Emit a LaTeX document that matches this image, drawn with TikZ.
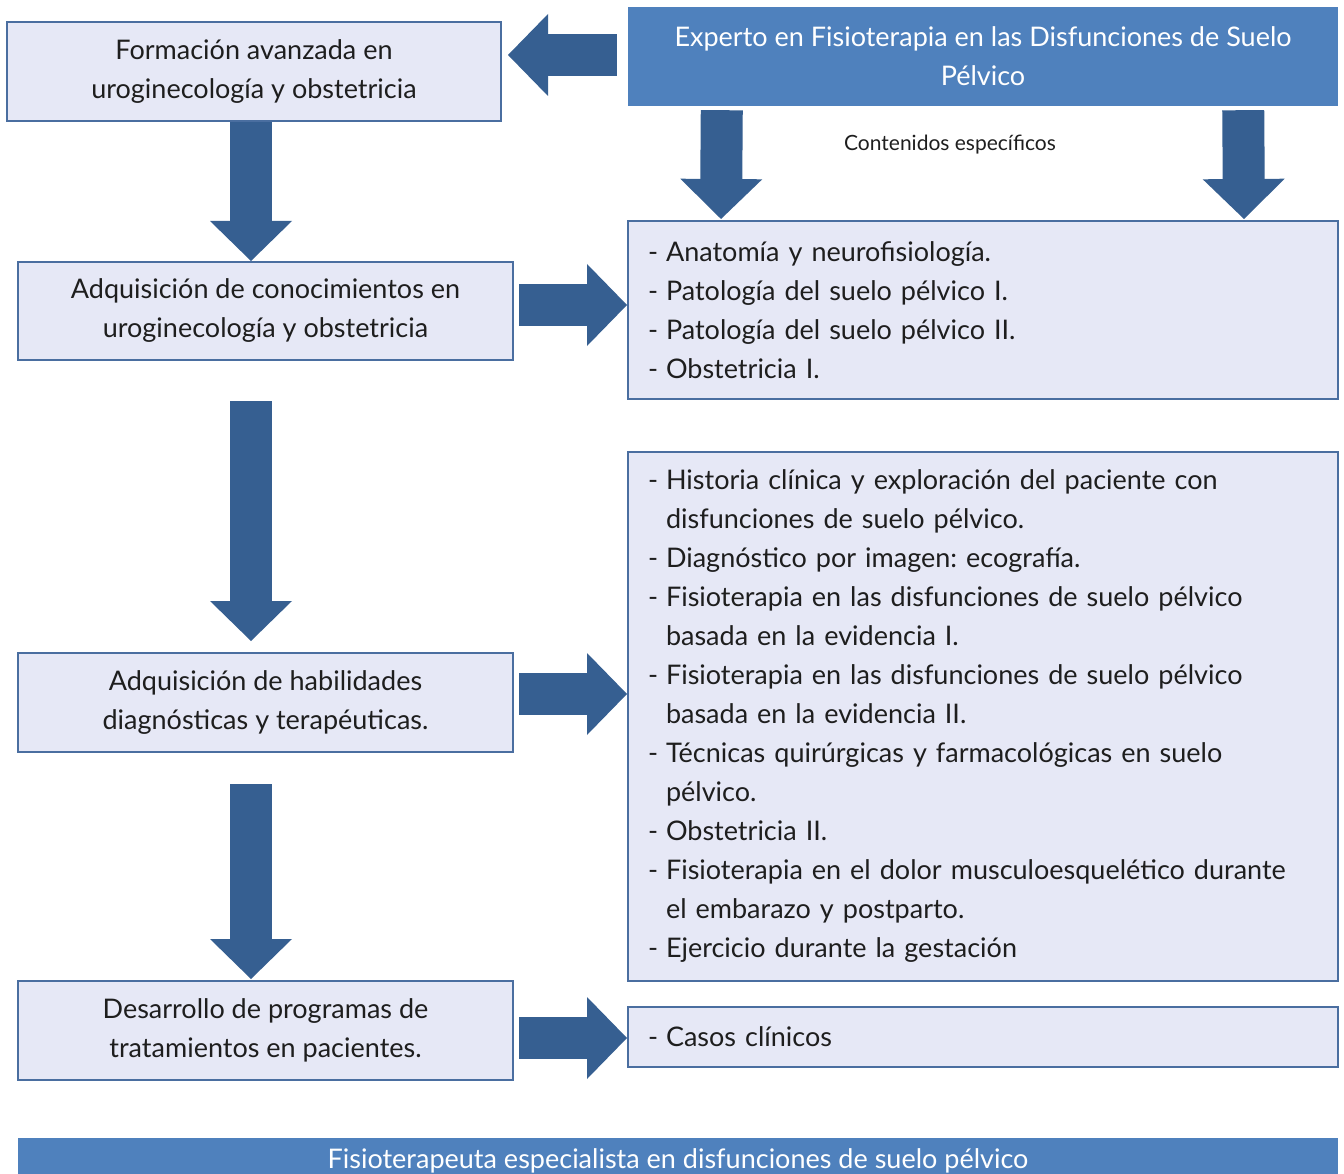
\documentclass[tikz,border=0pt]{standalone}
\usepackage{fontspec}
\setmainfont{Lato}
\usetikzlibrary{arrows.meta,positioning}
\frenchspacing

\definecolor{boxfill}{RGB}{230,232,246}
\definecolor{boxline}{RGB}{74,110,160}
\definecolor{arrowblue}{RGB}{54,95,145}
\definecolor{headblue}{RGB}{79,129,189}
\definecolor{txtgray}{RGB}{30,30,30}

\newcommand{\mainsize}{\fontsize{27}{39}\selectfont}
\newcommand{\smallsize}{\fontsize{21}{26}\selectfont}
\newcommand{\guion}{\makebox[18pt][l]{-}}
\newcommand{\sangria}{\hspace*{18pt}}

\begin{document}
\begin{tikzpicture}[x=1pt,y=-1pt,
  box/.style={draw=boxline,line width=2pt,fill=boxfill,text=txtgray,
    align=center,font=\mainsize,minimum width=495pt},
  listbox/.style={draw=boxline,line width=2pt,fill=boxfill,text=txtgray,
    align=left,font=\mainsize,text width=670pt,inner xsep=20pt,
    minimum width=710pt},
  headbox/.style={fill=headblue,text=white,align=center,font=\mainsize},
  blk/.style={draw=arrowblue,line width=42pt,
    -{Triangle[length=40pt,width=82pt,line width=0pt,fill=arrowblue]}}]
  \useasboundingbox (0,0) rectangle (1344,1174);

  % left column
  \node[box,minimum width=494pt,minimum height=99pt] (F) at (254,71.5)
    {Formación avanzada en\\uroginecología y obstetricia};
  \node[box,minimum height=98pt] (A1) at (265.5,311)
    {Adquisición de conocimientos en\\uroginecología y obstetricia};
  \node[box,minimum height=99pt] (A2) at (265.5,702.5)
    {Adquisición de habilidades\\diagnósticas y terapéuticas.};
  \node[box,minimum height=99pt] (D) at (265.5,1030.5)
    {Desarrollo de programas de\\tratamientos en pacientes.};

  % right column
  \node[headbox,minimum width=710pt,minimum height=99pt] (E) at (983,56.5)
    {Experto en Fisioterapia en las Disfunciones de Suelo\\Pélvico};
  \node[font=\smallsize,text=txtgray] (lbl) at (950,145) {Contenidos específicos};
  \node[listbox,minimum height=178pt] (C1) at (983,310)
    {\guion Anatomía y neurofisiología.\\
     \guion Patología del suelo pélvico I.\\
     \guion Patología del suelo pélvico II.\\
     \guion Obstetricia I.};
  \node[listbox,minimum height=529pt] (C2) at (983,716.5)
    {\guion Historia clínica y exploración del paciente con\\
     \sangria disfunciones de suelo pélvico.\\
     \guion Diagnóstico por imagen: ecografía.\\
     \guion Fisioterapia en las disfunciones de suelo pélvico\\
     \sangria basada en la evidencia I.\\
     \guion Fisioterapia en las disfunciones de suelo pélvico\\
     \sangria basada en la evidencia II.\\
     \guion Técnicas quirúrgicas y farmacológicas en suelo\\
     \sangria pélvico.\\
     \guion Obstetricia II.\\
     \guion Fisioterapia en el dolor musculoesquelético durante\\
     \sangria el embarazo y postparto.\\
     \guion Ejercicio durante la gestación};
  \node[listbox,minimum height=60pt] (C3) at (983,1037)
    {\guion Casos clínicos};

  % bottom bar
  \node[headbox,minimum width=1320pt,minimum height=46pt] (S) at (678,1161)
    {Fisioterapeuta especialista en disfunciones de suelo pélvico};

  % arrows
  \coordinate (colx) at (251,0);
  \draw[blk] (F.south -| colx) -- (A1.north -| colx);
  \draw[blk,shorten <=40pt,shorten >=11pt] (A1.south -| colx) -- (A2.north -| colx);
  \draw[blk,shorten <=31pt,shorten >=1pt] (A2.south -| colx) -- (D.north -| colx);
  \draw[blk,shorten <=11pt,shorten >=6pt] ([yshift=1.5pt]E.west) -- ([yshift=1.5pt]E.west -| F.east);
  \draw[blk,shorten <=4pt,shorten >=1pt] ([xshift=94pt]E.south west) -- ([xshift=94pt]C1.north west);
  \draw[blk,shorten <=4pt,shorten >=1pt] ([xshift=-95pt]E.south east) -- ([xshift=-95pt]C1.north east);
  \draw[blk,shorten <=5pt] ([yshift=6pt]A1.east) -- ([yshift=6pt]A1.east -| C1.west);
  \draw[blk,shorten <=5pt] ([yshift=8.5pt]A2.east) -- ([yshift=8.5pt]A2.east -| C2.west);
  \draw[blk,shorten <=5pt] ([yshift=-7.5pt]D.east) -- ([yshift=-7.5pt]D.east -| C3.west);
\end{tikzpicture}
\end{document}
